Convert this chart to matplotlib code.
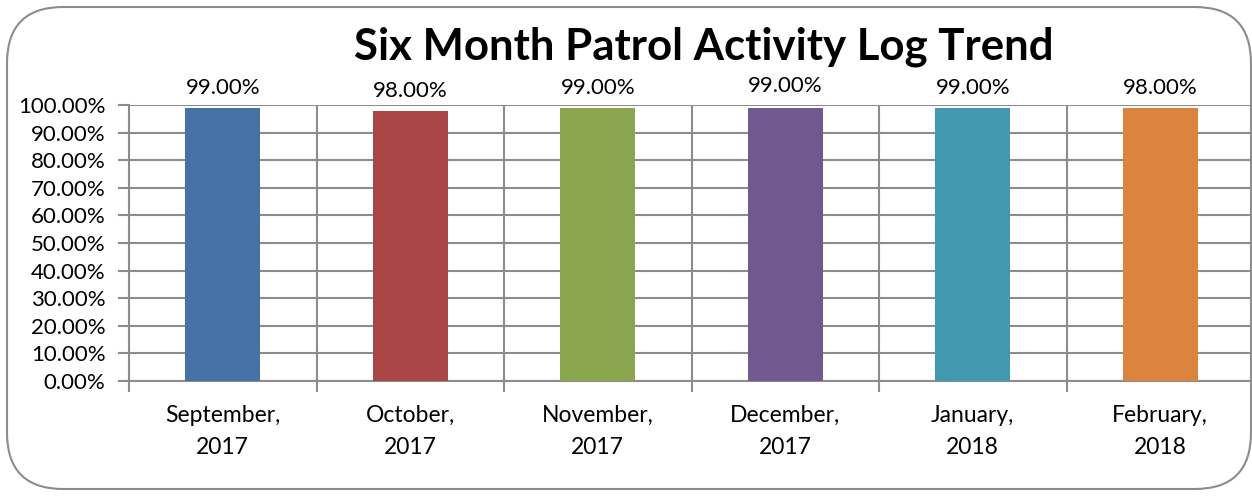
import matplotlib
matplotlib.use("Agg")
import matplotlib.pyplot as plt
from matplotlib.patches import FancyBboxPatch
from matplotlib.ticker import FixedLocator, NullFormatter

categories = ["September,\n2017", "October,\n2017", "November,\n2017",
              "December,\n2017", "January,\n2018", "February,\n2018"]
bar_values = [99, 98, 99, 99, 99, 99]
label_texts = ["99.00%", "98.00%", "99.00%", "99.00%", "99.00%", "98.00%"]
yticks = [0, 10, 20, 30, 40, 50, 60, 70, 80, 90, 100]
ytick_labels = ["0.00%", "10.00%", "20.00%", "30.00%", "40.00%", "50.00%",
                "60.00%", "70.00%", "80.00%", "90.00%", "100.00%"]
title = "Six Month Patrol Activity Log Trend"

colors = ["#4672A7", "#A94544", "#89A54E", "#71588F", "#4198AF", "#DB843D"]
label_offsets = [0, 0, 0, 1.5, 0, 0]  # extra points above bar

plt.rcParams['font.family'] = ['Lato', 'DejaVu Sans']

W, H = 1252, 496
fig = plt.figure(figsize=(W / 100, H / 100), dpi=100)

# rounded border
border = FancyBboxPatch((7 / W, 7 / H), (1251 - 7) / W, (489 - 7) / H,
                        boxstyle="round,pad=0,rounding_size=0.045",
                        transform=fig.transFigure, facecolor="none",
                        edgecolor="#8C8C8C", linewidth=1.5,
                        mutation_aspect=W / H, zorder=-1)
fig.patches.append(border)

left, right, top, bottom = 129, 1254, 105, 381
ax = fig.add_axes([left / W, (H - bottom) / H, (right - left) / W, (bottom - top) / H])
ax.patch.set_alpha(0)

x = list(range(len(categories)))
ax.bar(x, bar_values, width=0.4, color=colors, zorder=3)
ax.set_xlim(-0.5, len(categories) - 0.5)
ax.set_ylim(0, 100)

ax.set_yticks(yticks)
ax.set_yticklabels(ytick_labels, fontsize=16)
ax.set_xticks(x)
ax.set_xticklabels(categories, fontsize=16.5, linespacing=1.65)
ax.tick_params(axis='x', length=0, pad=17)
ax.xaxis.set_minor_locator(FixedLocator([i - 0.5 for i in range(len(categories) + 1)]))
ax.xaxis.set_minor_formatter(NullFormatter())
ax.tick_params(axis='x', which='minor', length=8, width=1.5, color="#8C8C8C")
ax.tick_params(axis='y', length=8, width=1.5, color="#8C8C8C", pad=9)

ax.grid(True, axis='y', which='major', color="#8C8C8C", linewidth=1.5, zorder=0)
ax.grid(True, axis='x', which='minor', color="#8C8C8C", linewidth=1.5, zorder=0)
ax.set_axisbelow(True)

for s in ["top", "right"]:
    ax.spines[s].set_visible(False)
for s in ["left", "bottom"]:
    ax.spines[s].set_color("#8C8C8C")
    ax.spines[s].set_linewidth(1.5)

for xi, v, t, off in zip(x, bar_values, label_texts, label_offsets):
    ax.annotate(t, (xi, v), xytext=(0, 7 + off), textcoords="offset points",
                ha="center", va="bottom", fontsize=16)

fig.text(704 / W, 1 - 47 / H, title, ha="center", va="center",
         fontsize=31.5, fontweight="bold")

fig.savefig("out.png", dpi=100)
